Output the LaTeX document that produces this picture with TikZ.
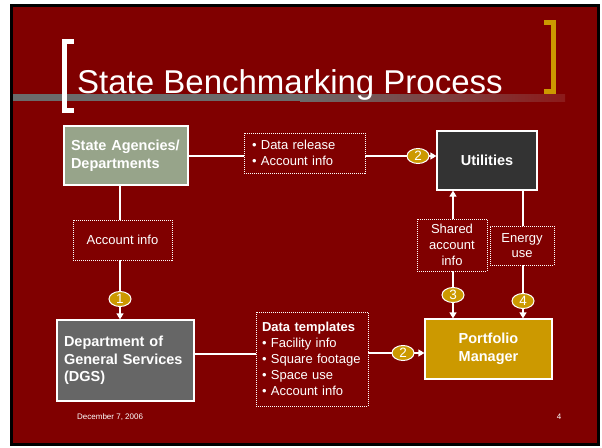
\documentclass[tikz,border=0pt]{standalone}
\usepackage{fontspec}
\setmainfont{Liberation Sans}
\usetikzlibrary{arrows.meta,shapes.geometric}
\definecolor{slidered}{HTML}{800000}
\definecolor{sage}{HTML}{97A48A}
\definecolor{darkbox}{HTML}{333333}
\definecolor{graybox}{HTML}{666666}
\definecolor{goldbox}{HTML}{CC9900}
\definecolor{bargray}{HTML}{6B6B6B}
\definecolor{barend}{HTML}{8C1A1A}
\begin{document}
\begin{tikzpicture}[x=1pt,y=-1pt,
  box/.style={draw=white, line width=1.2pt, rectangle, inner sep=0pt, text=white},
  note/.style={draw=white, line width=0.8pt, dash pattern=on 1pt off 1pt, rectangle, inner sep=0pt, text=white, font=\fontsize{13}{16}\selectfont},
  badge/.style={ellipse, draw=white, line width=1pt, fill=goldbox, inner sep=0pt, minimum width=22pt, minimum height=15pt, text=white, font=\fontsize{13.5}{13.5}\selectfont},
  conn/.style={draw=white, line width=1.2pt},
  arr/.style={conn, -{Triangle[length=6pt,width=7pt]}},
  boldtxt/.style={font=\bfseries\fontsize{14.5}{18}\selectfont}
]
\useasboundingbox (0,0) rectangle (602,447);
\fill[white] (0,0) rectangle (602,447);
\fill[black] (10,4) rectangle (600,446);
\fill[slidered] (13,7) rectangle (597,443);
% title bar
\fill[bargray] (13,94) rectangle (300,101);
\shade[left color=bargray, right color=barend] (300,94) rectangle (565,101);
% brackets
\fill[white] (62,39) rectangle (67,113);
\fill[white] (62,39) rectangle (74,44);
\fill[white] (62,108) rectangle (74,113);
\fill[goldbox] (551,20) rectangle (556,94);
\fill[goldbox] (544,20) rectangle (556,25);
\fill[goldbox] (544,89) rectangle (556,94);
\node[anchor=base west, inner sep=0pt, text=white, font=\fontsize{33}{33}\selectfont] (title) at (77,93) {State Benchmarking Process};

% boxes
\node[box, fill=sage, minimum width=124pt, minimum height=59pt, text width=110pt, align=left, boldtxt] (sa) at (126,155.5) {State Agencies/\\Departments};
\node[note, minimum width=121pt, minimum height=40pt, text width=105pt, align=left] (rel) at (304.5,153) {• Data release\\• Account info};
\node[box, fill=darkbox, minimum width=100pt, minimum height=59pt, boldtxt] (util) at (487,160.5) {Utilities};
\node[note, minimum width=99pt, minimum height=40pt] (acct) at (122.5,240) {Account info};
\node[box, fill=graybox, minimum width=137pt, minimum height=81pt, text width=123pt, align=left, font=\bfseries\fontsize{14.5}{17.5}\selectfont] (dgs) at (125.5,360.5) {Department of\\General Services\\(DGS)};
\node[note, minimum width=112pt, minimum height=94pt, text width=100pt, align=left] (tmpl) at (312,359) {\textbf{Data templates}\\• Facility info\\• Square footage\\• Space use\\• Account info};
\node[box, fill=goldbox, minimum width=127pt, minimum height=60pt, align=center, boldtxt] (pm) at (488.5,349) {Portfolio\\Manager};
\node[note, minimum width=70pt, minimum height=52pt, align=center] (shared) at (452,245) {Shared\\account\\info};
\node[note, minimum width=64pt, minimum height=39pt, align=center, font=\fontsize{13}{15.5}\selectfont] (energy) at (522,245.5) {Energy\\use};

% badge positions
\coordinate (p1) at (120,299);
\coordinate (p2) at (418,156);
\coordinate (q) at (200,354);
\coordinate (p2b) at (403,353);
\coordinate (p3) at (453,295);
\coordinate (p4) at (523,301);

% connectors
\draw[conn] (sa.east |- p2) -- (rel.west |- p2);
\draw[arr] (rel.east |- p2) -- (util.west |- p2);
\draw[conn] (p1 |- sa.south) -- (p1 |- acct.north);
\draw[arr] (p1 |- acct.south) -- (p1 |- dgs.north);
\draw[conn] (dgs.east |- q) -- (tmpl.west |- q);
\draw[arr] (tmpl.east |- p2b) -- (pm.west |- p2b);
\draw[arr] (p3 |- shared.north) -- (p3 |- util.south);
\draw[arr] (p3 |- shared.south) -- (p3 |- pm.north);
\draw[conn] (p4 |- util.south) -- (p4 |- energy.north);
\draw[arr] (p4 |- energy.south) -- (p4 |- pm.north);

% badges
\node[badge] (b1) at (p1) {1};
\node[badge] (b2) at (p2) {2};
\node[badge] (b2b) at (p2b) {2};
\node[badge] (b3) at (p3) {3};
\node[badge] (b4) at (p4) {4};

% footer
\node[anchor=west, inner sep=0pt, text=white, font=\fontsize{8}{8}\selectfont] (date) at (77,417) {December 7, 2006};
\node[inner sep=0pt, text=white, font=\fontsize{8}{8}\selectfont] (page) at (559,417) {4};
\end{tikzpicture}
\end{document}
